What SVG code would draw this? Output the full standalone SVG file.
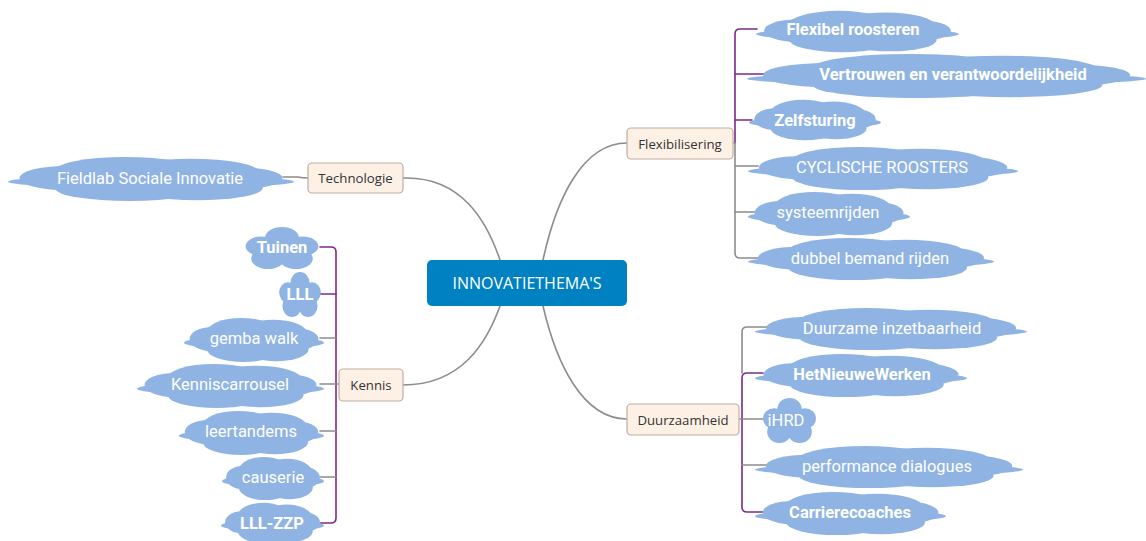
<svg xmlns="http://www.w3.org/2000/svg" width="1146" height="541" viewBox="0 0 1146 541">
  <defs>
    <style>
      .wire { fill: none; stroke-width: 1.6; stroke-linecap: round; stroke-linejoin: round; }
      .grey { stroke: #8c8c8c; }
      .purple { stroke: #7d2a86; }
      .topic { fill: #fdf1e6; stroke: #bfae9f; stroke-width: 1.2; }
      .topic-text { font-family: "Open Sans", "Liberation Sans", sans-serif; font-size: 13.2px; fill: #333; text-anchor: middle; dominant-baseline: central; }
      .root-text { font-family: "Open Sans", "Liberation Sans", sans-serif; font-size: 16px; fill: #fff; text-anchor: middle; dominant-baseline: central; }
      .cloud { fill: #8fb4e3; }
      .leaf { font-family: Roboto, "Liberation Sans", sans-serif; font-size: 16.5px; fill: #fff; text-anchor: middle; dominant-baseline: central; }
      .bold { font-weight: bold; }
    </style>
    <!-- wide cloud, stretched to any box -->
    <symbol id="cloudWide" viewBox="0 0 200 50" preserveAspectRatio="none">
      <g class="cloud">
        <ellipse cx="100" cy="28" rx="100" ry="7"/>
        <ellipse cx="100" cy="26" rx="84" ry="17"/>
        <ellipse cx="82" cy="17" rx="50" ry="16"/>
        <ellipse cx="128" cy="18" rx="48" ry="15"/>
        <ellipse cx="40" cy="24" rx="32" ry="13"/>
        <ellipse cx="160" cy="24" rx="32" ry="12"/>
        <ellipse cx="85" cy="35" rx="52" ry="14"/>
        <ellipse cx="132" cy="35" rx="46" ry="13"/>
      </g>
    </symbol>
    <!-- compact round cloud -->
    <symbol id="cloudSmall" viewBox="0 0 60 50" preserveAspectRatio="none">
      <g class="cloud">
        <circle cx="30" cy="13" r="12"/>
        <circle cx="15" cy="23" r="11"/>
        <circle cx="45" cy="23" r="11"/>
        <circle cx="20" cy="37" r="12"/>
        <circle cx="40" cy="37" r="12"/>
        <ellipse cx="30" cy="26" rx="22" ry="16"/>
      </g>
    </symbol>
  </defs>

  <rect width="1146" height="541" fill="#fff"/>

  <g id="connectors">
    <!-- root to main topics -->
    <path class="wire grey" d="M403,178 C462,176 487,222 500,260"/>
    <path class="wire grey" d="M403,385 C462,385 487,342 500,306"/>
    <path class="wire grey" d="M627,143 C582,143 556,200 543,260"/>
    <path class="wire grey" d="M627,419 C582,419 556,362 543,306"/>

    <!-- Technologie -->
    <path class="wire grey" d="M283,177 H298 Q302,178 308,178"/>

    <!-- Flexibilisering -->
    <path class="wire purple" d="M757,29 H740 Q735,29 735,34 V143"/>
    <path class="wire purple" d="M735,74 H770"/>
    <path class="wire purple" d="M735,120 H752"/>
    <path class="wire grey" d="M733,143 H735 V253 Q735,258 740,258 H758"/>
    <path class="wire grey" d="M735,166 H758"/>
    <path class="wire grey" d="M735,212 H758"/>

    <!-- Duurzaamheid -->
    <path class="wire grey" d="M767,327 H747 Q742,327 742,332 V373"/>
    <path class="wire purple" d="M763,373 H747 Q742,373 742,378 V507 Q742,512 747,512 H767"/>
    <path class="wire grey" d="M739,419 H767"/>
    <path class="wire grey" d="M742,465 H767"/>

    <!-- Kennis -->
    <path class="wire purple" d="M320,247 H331 Q336,247 336,252 V518 Q336,523 331,523 H320"/>
    <path class="wire purple" d="M320,294 H336"/>
    <path class="wire grey" d="M320,338 H336"/>
    <path class="wire grey" d="M320,384 H339"/>
    <path class="wire grey" d="M320,431 H336"/>
    <path class="wire grey" d="M320,477 H336"/>
  </g>

  <g id="root">
    <rect x="427" y="260" width="200" height="46" rx="5" fill="#0081c1"/>
    <text class="root-text" x="527" y="283">INNOVATIETHEMA'S</text>
  </g>

  <g id="technologie">
    <rect class="topic" x="308" y="163" width="95" height="30" rx="4"/>
    <text class="topic-text" x="355.5" y="178">Technologie</text>
  </g>
  <g id="kennis">
    <rect class="topic" x="339" y="369" width="64" height="32" rx="4"/>
    <text class="topic-text" x="371" y="385">Kennis</text>
  </g>
  <g id="flexibilisering">
    <rect class="topic" x="627" y="128" width="106" height="31" rx="4"/>
    <text class="topic-text" x="680" y="143.5">Flexibilisering</text>
  </g>
  <g id="duurzaamheid">
    <rect class="topic" x="627" y="404" width="112" height="31" rx="4"/>
    <text class="topic-text" x="683" y="419.5">Duurzaamheid</text>
  </g>

  <!-- Technologie leaf -->
  <g id="fieldlab">
    <use href="#cloudWide" x="8" y="156" width="286" height="46"/>
    <text class="leaf" x="150" y="178">Fieldlab Sociale Innovatie</text>
  </g>

  <!-- Flexibilisering leaves -->
  <g id="flexibel-roosteren">
    <use href="#cloudWide" x="756" y="10" width="203" height="43"/>
    <text class="leaf bold" x="853" y="29">Flexibel roosteren</text>
  </g>
  <g id="vertrouwen">
    <use href="#cloudWide" x="747" y="53" width="399" height="46"/>
    <text class="leaf bold" x="953" y="74">Vertrouwen en verantwoordelijkheid</text>
  </g>
  <g id="zelfsturing">
    <use href="#cloudWide" x="749" y="99" width="132" height="42"/>
    <text class="leaf bold" x="815" y="120">Zelfsturing</text>
  </g>
  <g id="cyclische-roosters">
    <use href="#cloudWide" x="748" y="146" width="270" height="45"/>
    <text class="leaf" x="882" y="167">CYCLISCHE ROOSTERS</text>
  </g>
  <g id="systeemrijden">
    <use href="#cloudWide" x="748" y="191" width="162" height="46"/>
    <text class="leaf" x="828" y="212">systeemrijden</text>
  </g>
  <g id="dubbel-bemand">
    <use href="#cloudWide" x="748" y="237" width="246" height="44"/>
    <text class="leaf" x="870" y="258">dubbel bemand rijden</text>
  </g>

  <!-- Duurzaamheid leaves -->
  <g id="duurzame-inzetbaarheid">
    <use href="#cloudWide" x="755" y="307" width="272" height="44"/>
    <text class="leaf" x="892" y="328">Duurzame inzetbaarheid</text>
  </g>
  <g id="hetnieuwewerken">
    <use href="#cloudWide" x="755" y="353" width="212" height="45"/>
    <text class="leaf bold" x="862" y="374">HetNieuweWerken</text>
  </g>
  <g id="ihrd">
    <use href="#cloudSmall" x="759" y="397" width="61" height="47"/>
    <text class="leaf" x="786" y="420">iHRD</text>
  </g>
  <g id="performance-dialogues">
    <use href="#cloudWide" x="755" y="445" width="268" height="44"/>
    <text class="leaf" x="887" y="466">performance dialogues</text>
  </g>
  <g id="carrierecoaches">
    <use href="#cloudWide" x="755" y="491" width="191" height="45"/>
    <text class="leaf bold" x="850" y="512">Carrierecoaches</text>
  </g>

  <!-- Kennis leaves -->
  <g id="tuinen">
    <use href="#cloudSmall" x="240" y="226" width="84" height="44"/>
    <text class="leaf bold" x="282" y="247">Tuinen</text>
  </g>
  <g id="lll">
    <use href="#cloudSmall" x="276" y="271" width="48" height="47"/>
    <text class="leaf bold" x="300" y="294">LLL</text>
  </g>
  <g id="gemba-walk">
    <use href="#cloudWide" x="184" y="317" width="140" height="46"/>
    <text class="leaf" x="254" y="338">gemba walk</text>
  </g>
  <g id="kenniscarrousel">
    <use href="#cloudWide" x="137" y="363" width="187" height="46"/>
    <text class="leaf" x="230" y="384">Kenniscarrousel</text>
  </g>
  <g id="leertandems">
    <use href="#cloudWide" x="179" y="410" width="145" height="46"/>
    <text class="leaf" x="251" y="431">leertandems</text>
  </g>
  <g id="causerie">
    <use href="#cloudWide" x="222" y="456" width="102" height="45"/>
    <text class="leaf" x="273" y="477">causerie</text>
  </g>
  <g id="lll-zzp">
    <use href="#cloudWide" x="221" y="502" width="103" height="42"/>
    <text class="leaf bold" x="272" y="523">LLL-ZZP</text>
  </g>
</svg>
